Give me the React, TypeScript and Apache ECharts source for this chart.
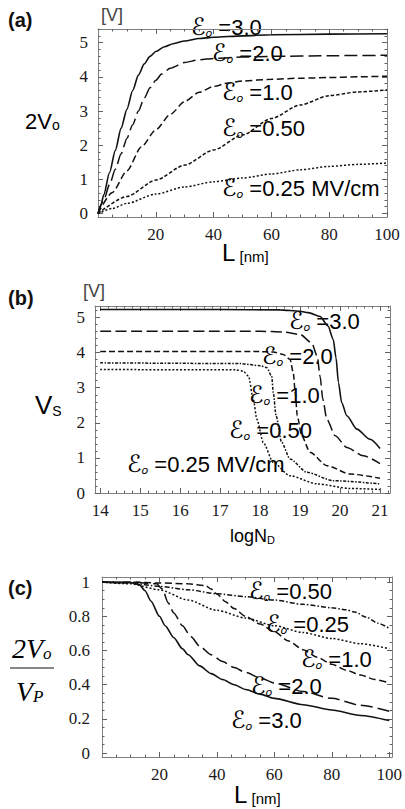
import React, { useEffect, useRef } from 'react';
import * as echarts from 'echarts';

// ---------- DATA ----------
// Panel (a): 2Vo [V] vs L [nm]
const aE30 = [[0,0],[1,0.25],[2,0.55],[4,1.2],[6,1.85],[8,2.5],[10,3.05],[12,3.6],[14,4.05],[16,4.38],[18,4.6],[20,4.74],[23,4.88],[26,4.97],[30,5.05],[35,5.12],[40,5.16],[50,5.2],[60,5.23],[80,5.25],[100,5.26]];
const aE20 = [[0,0],[2,0.4],[4,0.85],[6,1.3],[8,1.75],[10,2.2],[12,2.6],[14,3.0],[16,3.38],[18,3.68],[20,3.9],[22,4.08],[25,4.25],[30,4.42],[35,4.5],[40,4.54],[50,4.58],[60,4.6],[80,4.62],[100,4.63]];
const aE10 = [[0,0],[5,0.62],[10,1.25],[15,1.95],[20,2.45],[25,2.9],[30,3.28],[35,3.55],[40,3.72],[45,3.82],[50,3.88],[60,3.93],[70,3.96],[80,3.98],[90,4.0],[100,4.02]];
const aE050 = [[0,0],[10,0.5],[20,0.98],[30,1.42],[40,1.86],[50,2.3],[60,2.78],[70,3.18],[80,3.45],[90,3.56],[100,3.62]];
const aE025 = [[0,0],[5,0.15],[10,0.3],[20,0.57],[30,0.78],[40,0.93],[50,1.04],[60,1.16],[70,1.28],[80,1.38],[90,1.44],[100,1.48]];

// Panel (b): Vs [V] vs logND
const bE30 = [[14,5.23],[17,5.23],[18.5,5.22],[19.0,5.18],[19.2,5.14],[19.5,5.03],[19.7,4.76],[19.83,4.38],[19.9,3.85],[19.96,3.15],[20.04,2.58],[20.17,2.2],[20.42,1.82],[20.75,1.53],[21,1.27]];
const bE20 = [[14,4.61],[18,4.61],[18.58,4.59],[19.0,4.52],[19.29,4.28],[19.43,3.9],[19.5,3.33],[19.57,2.67],[19.67,2.1],[19.88,1.63],[20.17,1.3],[20.58,1.06],[21,0.84]];
const bE10 = [[14,4.03],[18,4.03],[18.33,4.02],[18.58,3.95],[18.75,3.81],[18.83,3.43],[18.88,2.86],[18.93,2.2],[19.04,1.63],[19.25,1.16],[19.67,0.78],[20.25,0.54],[21,0.42]];
const bE050 = [[14,3.71],[17.5,3.69],[18.0,3.63],[18.17,3.57],[18.29,3.33],[18.33,2.86],[18.4,2.2],[18.54,1.44],[18.75,0.97],[19.17,0.59],[19.83,0.35],[21,0.26]];
const bE025 = [[14,3.52],[17.4,3.51],[17.58,3.47],[17.71,3.33],[17.83,2.67],[17.92,2.1],[18.08,1.44],[18.33,0.87],[18.75,0.49],[19.42,0.26],[20.25,0.13],[21,0.1]];

// Panel (c): 2Vo/VP vs L [nm]
const cE30 = [[0,1],[10,0.997],[13,0.985],[15,0.95],[17,0.89],[20,0.8],[22,0.745],[25,0.675],[28,0.61],[30,0.575],[34,0.51],[38,0.465],[42,0.43],[46,0.4],[50,0.372],[55,0.345],[60,0.32],[70,0.283],[80,0.252],[90,0.22],[100,0.19]];
const cE20 = [[0,1],[10,1.0],[19,0.99],[21,0.96],[23,0.88],[25,0.82],[28,0.745],[31,0.68],[34,0.625],[38,0.575],[42,0.535],[46,0.5],[50,0.472],[55,0.44],[60,0.41],[70,0.36],[80,0.32],[90,0.28],[100,0.245]];
const cE10 = [[0,1],[10,1.0],[20,0.995],[30,0.99],[36,0.98],[38,0.96],[40,0.93],[43,0.885],[46,0.845],[50,0.8],[55,0.755],[60,0.71],[65,0.655],[70,0.605],[75,0.56],[80,0.52],[85,0.485],[90,0.457],[95,0.43],[100,0.41]];
const cE050 = [[0,1],[10,0.995],[20,0.975],[30,0.955],[40,0.932],[50,0.915],[60,0.895],[70,0.87],[80,0.85],[85,0.838],[88,0.825],[92,0.795],[96,0.76],[100,0.73]];
const cE025 = [[0,1],[10,0.99],[20,0.955],[30,0.895],[40,0.835],[50,0.79],[60,0.745],[70,0.705],[80,0.67],[90,0.64],[100,0.61]];

// Tick labels
const xTicksA = [20, 40, 60, 80, 100];
const yTicksA = [0, 1, 2, 3, 4, 5];
const xTicksB = [14, 15, 16, 17, 18, 19, 20, 21];
const yTicksB = [0, 1, 2, 3, 4, 5];
const xTicksC = [20, 40, 60, 80, 100];
const yTicksC = [0, 0.2, 0.4, 0.6, 0.8, 1];

// ---------- helpers ----------
const range = (a: number, b: number, s: number) => {
  const out: number[] = [];
  for (let i = 0; a + i * s <= b + 1e-9; i++) out.push(+(a + i * s).toFixed(4));
  return out;
};

const FRAME = '#808080';
const TICK = '#606060';
const LBL = { fontFamily: 'Liberation Serif', fontSize: 17, color: '#1a1a1a' };

function axes(dim: 'x' | 'y', gi: number, min: number, max: number, majors: number[], labels: number[], minors: number[], margin: number) {
  const sides = dim === 'x' ? ['bottom', 'top'] : ['left', 'right'];
  const out: any[] = [];
  sides.forEach((pos, si) => {
    out.push({
      type: 'value', gridIndex: gi, min, max, position: pos,
      axisLine: { show: true, onZero: false, lineStyle: { color: FRAME, width: 1 } },
      axisTick: { show: true, inside: true, length: 5, customValues: majors, lineStyle: { color: TICK, width: 1 } },
      axisLabel: si === 0 ? { show: true, customValues: labels, margin, ...LBL } : { show: false },
      splitLine: { show: false },
    });
    out.push({
      type: 'value', gridIndex: gi, min, max, position: pos,
      axisLine: { show: false, onZero: false },
      axisTick: { show: true, inside: true, length: 2.5, customValues: minors, lineStyle: { color: TICK, width: 1 } },
      axisLabel: { show: false },
      splitLine: { show: false },
    });
  });
  return out;
}

function line(data: number[][], gi: number, type: any, width = 1.5) {
  return {
    type: 'line', data, xAxisIndex: gi * 4, yAxisIndex: gi * 4,
    showSymbol: false, symbol: 'none', smooth: 0.25, smoothMonotone: 'x',
    lineStyle: { color: '#111', width, type },
    silent: true, clip: true,
  };
}

const eRich = {
  e: { fontFamily: 'DejaVu Sans', fontStyle: 'italic', fontSize: 24, lineHeight: 24, verticalAlign: 'middle', color: '#111' },
  s: { fontFamily: 'DejaVu Sans', fontStyle: 'italic', fontSize: 11, lineHeight: 10, verticalAlign: 'bottom', color: '#111' },
  t: { fontFamily: 'Liberation Sans', fontSize: 22, lineHeight: 24, verticalAlign: 'middle', color: '#111' },
};

function eLabel(x: number, y: number, v: string) {
  return {
    type: 'text', x, y, silent: true,
    style: { text: `{e|ℰ}{s|o}{t| =${v}}`, rich: eRich, verticalAlign: 'middle', align: 'left' },
  };
}

function plain(x: number, y: number, text: string, font: any, align = 'left') {
  return { type: 'text', x, y, silent: true, style: { text, align, verticalAlign: 'middle', fill: '#111', ...font } };
}

function richText(x: number, y: number, text: string, rich: any, align = 'left') {
  return { type: 'text', x, y, silent: true, style: { text, rich, align, verticalAlign: 'middle' } };
}

export default function App() {
  const ref = useRef<HTMLDivElement>(null);
  useEffect(() => {
    document.body.style.margin = '0';
    const chart = echarts.init(ref.current!, null, { renderer: 'svg' });

    const grids = [
      { left: 98, top: 29, width: 289, height: 188 },
      { left: 95, top: 306, width: 295, height: 187 },
      { left: 102, top: 577, width: 294, height: 180 },
    ];

    const xAxis = [
      ...axes('x', 0, 0, 100, xTicksA, xTicksA, range(5, 95, 5), 9),
      ...axes('x', 1, 13.87, 21.25, xTicksB, xTicksB, range(14, 21.2, 0.2), 9),
      ...axes('x', 2, 0, 101, xTicksC, xTicksC, range(5, 100, 5), 9),
    ];
    const yAxis = [
      ...axes('y', 0, -0.1, 5.4, yTicksA, yTicksA, range(0, 5.4, 0.2), 10),
      ...axes('y', 1, 0, 5.33, yTicksB, yTicksB, range(0, 5.2, 0.2), 10),
      ...axes('y', 2, -0.023, 1.03, yTicksC, yTicksC, range(0, 1, 0.05), 12),
    ];

    const solid = 'solid';
    const series = [
      line(aE30, 0, solid, 1.6), line(aE20, 0, [13, 5]), line(aE10, 0, [7, 3.5]), line(aE050, 0, [3.5, 2]), line(aE025, 0, [2, 2]),
      line(bE30, 1, solid, 1.6), line(bE20, 1, [11, 4.5]), line(bE10, 1, [6, 3]), line(bE050, 1, [3, 1.5, 1.5, 1.5]), line(bE025, 1, [2, 1.8]),
      line(cE30, 2, solid, 1.6), line(cE20, 2, [12, 5]), line(cE10, 2, [7, 3.5]), line(cE050, 2, [5, 2, 1.5, 2]), line(cE025, 2, [2, 2]),
    ];

    const bold = { fontFamily: 'Liberation Sans', fontSize: 20, fontWeight: 'bold' };
    const unit = { fontFamily: 'Liberation Sans', fontSize: 18, fill: '#444' };
    const nameSub = (big: number, small: number, fam = 'Liberation Sans', italic = false) => ({
      a: { fontFamily: fam, fontSize: big, lineHeight: big, verticalAlign: 'middle', color: '#111', fontStyle: italic ? 'italic' : 'normal' },
      b: { fontFamily: fam, fontSize: small, lineHeight: small, verticalAlign: 'bottom', color: '#111', fontStyle: italic ? 'italic' : 'normal' },
    });
    const lRich = {
      a: { fontFamily: 'Liberation Sans', fontSize: 24, lineHeight: 24, verticalAlign: 'middle', color: '#111' },
      b: { fontFamily: 'Liberation Sans', fontSize: 15, lineHeight: 13, verticalAlign: 'bottom', color: '#111' },
    };

    const graphic = [
      // panel (a)
      plain(8, 20, '(a)', bold),
      plain(101, 15, '[V]', unit),
      richText(25, 121, '{a|2V}{b|o}', nameSub(22, 14)),
      richText(222, 252, '{a|L}{b| [nm]}', lRich),
      eLabel(191, 27, '3.0'),
      eLabel(212, 53, '2.0'),
      eLabel(222, 92, '1.0'),
      eLabel(222, 128, '0.50'),
      eLabel(222, 188, '0.25 MV/cm'),
      // panel (b)
      plain(8, 298, '(b)', bold),
      plain(83, 291, '[V]', unit),
      richText(35, 405, '{a|V}{b|S}', nameSub(26, 14)),
      richText(230, 536, '{a|logN}{b|D}', nameSub(18, 11)),
      eLabel(289, 321, '3.0'),
      eLabel(262, 356, '2.0'),
      eLabel(249, 395, '1.0'),
      eLabel(229, 430, '0.50'),
      eLabel(127, 464, '0.25 MV/cm'),
      // panel (c)
      plain(8, 588, '(c)', bold),
      richText(12, 648, '{a|2V}{b|o}', nameSub(28, 17, 'Liberation Serif', true)),
      { type: 'line', silent: true, shape: { x1: 10, y1: 668, x2: 54, y2: 668 }, style: { stroke: '#111', lineWidth: 1.2 } },
      richText(16, 691, '{a|V}{b|P}', nameSub(28, 17, 'Liberation Serif', true)),
      richText(234, 794, '{a|L}{b| [nm]}', lRich),
      eLabel(249, 591, '0.50'),
      eLabel(266, 624, '0.25'),
      eLabel(301, 659, '1.0'),
      eLabel(251, 686, '2.0'),
      eLabel(231, 720, '3.0'),
    ];

    chart.setOption({
      animation: false,
      backgroundColor: '#fff',
      grid: grids,
      xAxis,
      yAxis,
      series,
      graphic,
    });
    return () => chart.dispose();
  }, []);
  return <div ref={ref} style={{ width: 405, height: 809 }} />;
}
